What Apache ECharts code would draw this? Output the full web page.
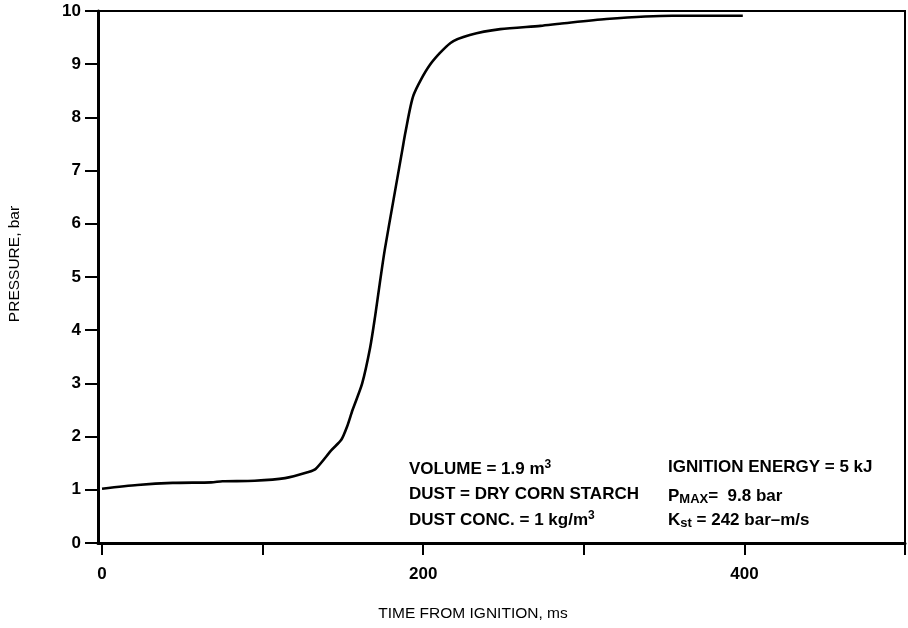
<!DOCTYPE html>
<html>
<head>
<meta charset="utf-8">
<script src="https://cdn.jsdelivr.net/npm/echarts@6/dist/echarts.min.js"></script>
<style>
  html, body { margin: 0; padding: 0; background: #fff; }
  #chart { width: 908px; height: 628px; }
</style>
</head>
<body>
<div id="chart"></div>
<script>
// Pressure trace of a corn-starch dust explosion in a 1.9 m3 vessel
const timeMs = [0, 22, 44, 68, 75, 95, 114, 128, 133, 143, 149, 152.5, 156, 162, 167, 170, 173, 176, 181.5, 187, 189, 194, 204, 217, 229, 248, 273, 285, 314, 355, 399];
const pressureBar = [1.02, 1.09, 1.13, 1.14, 1.16, 1.17, 1.22, 1.33, 1.39, 1.75, 1.94, 2.18, 2.5, 3.0, 3.68, 4.25, 4.89, 5.5, 6.45, 7.39, 7.73, 8.42, 8.98, 9.4, 9.55, 9.66, 9.72, 9.76, 9.85, 9.91, 9.91];

const xTicks = [0, 100, 200, 300, 400, 500];
const xLabels = [0, 200, 400];

const xTitle = 'TIME FROM IGNITION, ms';
const yTitle = 'PRESSURE, bar';

const FONT = '"Liberation Sans", Arial, Helvetica, sans-serif';

const chart = echarts.init(document.getElementById('chart'), null, { renderer: 'canvas' });

const rich = {
  n: { fontFamily: FONT, fontSize: 17, fontWeight: 'bold', color: '#000', lineHeight: 20 },
  sup: { fontFamily: FONT, fontSize: 12, fontWeight: 'bold', color: '#000', lineHeight: 20, verticalAlign: 'top', padding: [0, 0, 7, 0] },
  sub: { fontFamily: FONT, fontSize: 13, fontWeight: 'bold', color: '#000', lineHeight: 20, verticalAlign: 'bottom', padding: [7, 0, 0, 0] }
};

function note(left, top, text) {
  return { type: 'text', left: left, top: top, style: { text: text, rich: rich } };
}

chart.setOption({
  animation: false,
  backgroundColor: '#fff',
  grid: {
    left: 98, right: 3, top: 11, bottom: 85,
    outerBoundsMode: 'none',
    containLabel: false,
    show: true, borderColor: '#000', borderWidth: 2, backgroundColor: 'transparent'
  },
  xAxis: {
    type: 'value',
    min: -2.5, max: 500,
    axisLine: { show: true, onZero: false, lineStyle: { color: '#000', width: 3 } },
    axisTick: { show: true, length: 12, customValues: xTicks, lineStyle: { color: '#000', width: 2 } },
    axisLabel: { customValues: xLabels, margin: 23, fontFamily: FONT, fontSize: 17, fontWeight: 'bold', color: '#000' },
    splitLine: { show: false }
  },
  yAxis: {
    type: 'value',
    min: 0, max: 10, interval: 1,
    axisLine: { show: true, onZero: false, lineStyle: { color: '#000', width: 3 } },
    axisTick: { show: true, length: 13, lineStyle: { color: '#000', width: 2 } },
    axisLabel: { margin: 17, fontFamily: FONT, fontSize: 17, fontWeight: 'bold', color: '#000' },
    splitLine: { show: false }
  },
  series: [{
    type: 'line',
    data: timeMs.map((t, i) => [t, pressureBar[i]]),
    symbol: 'none',
    smooth: 0.25,
    lineStyle: { color: '#000', width: 2.6 }
  }],
  graphic: [
    // axis titles
    { type: 'text', x: 473, y: 614,
      style: { text: xTitle, fontFamily: FONT, fontSize: 15.5, fill: '#000', align: 'center', verticalAlign: 'middle' } },
    { type: 'text', x: 15, y: 264, rotation: Math.PI / 2,
      style: { text: yTitle, fontFamily: FONT, fontSize: 15.5, fill: '#000', align: 'center', verticalAlign: 'middle' } },
    // test conditions
    note(409, 459, '{n|VOLUME = 1.9 m}{sup|3}'),
    note(409, 486, '{n|DUST = DRY CORN STARCH}'),
    note(409, 510, '{n|DUST CONC. = 1 kg/m}{sup|3}'),
    note(668, 459, '{n|IGNITION ENERGY = 5 kJ}'),
    note(668, 486, '{n|P}{sub|MAX}{n|=  9.8 bar}'),
    note(668, 510, '{n|K}{sub|st}{n| = 242 bar–m/s}')
  ]
});
</script>
</body>
</html>
